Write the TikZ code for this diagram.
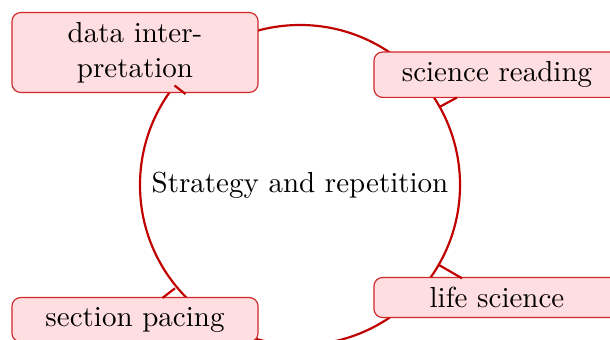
\documentclass[tikz,border=0pt]{standalone}
\definecolor{ringred}{RGB}{192,0,0}
\definecolor{boxline}{RGB}{208,40,40}
\definecolor{boxfill}{RGB}{255,222,225}
\begin{document}
\begin{tikzpicture}[x=0.3448pt,y=-0.3448pt,
  topic/.style={draw=boxline,fill=boxfill,line width=0.4pt,rounded corners=3pt,
    text width=78.2pt,align=center,inner sep=3.33pt,font=\fontsize{10}{12}\selectfont},
  ring/.style={draw=ringred,line width=0.75pt},
  tick/.style={draw=ringred,line width=0.75pt}]
\useasboundingbox (0,0) rectangle (610,339);
\clip (0,0) rectangle (610,339);
\coordinate (c) at (300,185);
\draw[ring] (c) circle[radius=55.17pt];
\node (mid) at (c) {Strategy and repetition};
\node[topic] (di) at (135,52.5) {data inter-\\pretation};
\node[topic] (sr) at (497,74.7) {science reading};
\node[topic] (ls) at (497,297.5) {life science};
\node[topic] (sp) at (135,319.7) {section pacing};
\coordinate (t1a) at (174.5,85.5);
\coordinate (t1b) at (185.5,94);
\coordinate (t2a) at (439.5,107);
\coordinate (t2b) at (457,97.5);
\coordinate (t3a) at (439,265);
\coordinate (t3b) at (462,278.3);
\coordinate (t4a) at (175,288.3);
\coordinate (t4b) at (162.5,297.9);
\draw[tick] (t1a) -- (t1b);
\draw[tick] (t2a) -- (t2b);
\draw[tick] (t3a) -- (t3b);
\draw[tick] (t4a) -- (t4b);
\end{tikzpicture}
\end{document}
